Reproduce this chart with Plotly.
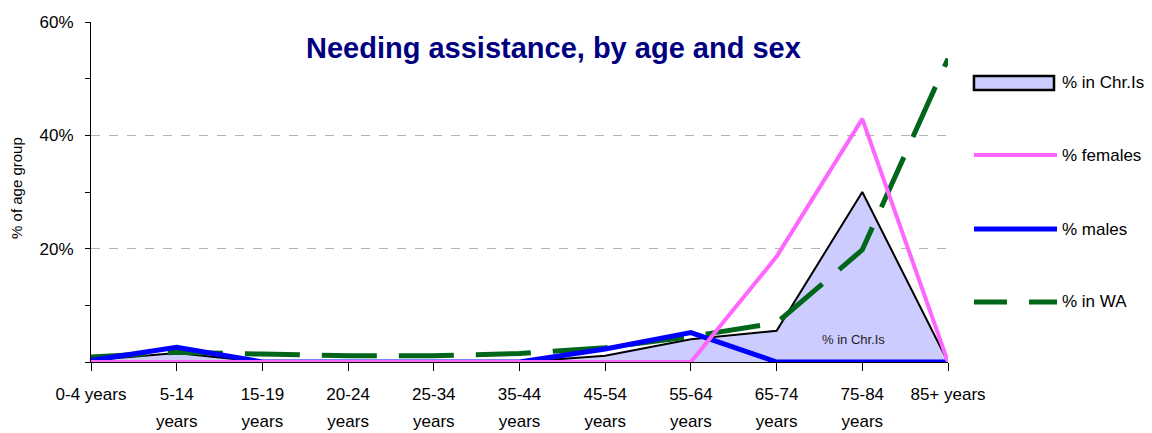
import plotly.graph_objects as go

# age groups (x categories), split into the two label lines
age_groups = ['0-4 years', '5-14', '15-19', '20-24', '25-34', '35-44',
              '45-54', '55-64', '65-74', '75-84', '85+ years']
second_line = ['', 'years', 'years', 'years', 'years', 'years',
               'years', 'years', 'years', 'years', '']

# % needing assistance
pct_chr_is = [0.3, 1.6, 0.0, 0.0, 0.0, 0.0, 1.1, 4.0, 5.5, 30.0, 0.0]
pct_females = [0.0, 0.0, 0.0, 0.0, 0.0, 0.0, 0.0, 0.0, 18.6, 42.9, 0.0]
pct_males = [0.3, 2.6, 0.0, 0.0, 0.0, 0.0, 2.3, 5.2, 0.0, 0.0, 0.0]
pct_wa = [0.9, 1.7, 1.4, 1.1, 1.1, 1.5, 2.5, 4.5, 6.9, 19.8, 53.5]

y_tick_vals = [20, 40, 60]
y_tick_text = ['20%', '40%', '60%']

FONT = 'Liberation Sans, Arial, sans-serif'
AREA_FILL = '#ccccff'
PINK = '#ff66ff'
BLUE = '#0000ff'
GREEN = '#006619'

fig = go.Figure()

fig.add_trace(go.Scatter(x=age_groups, y=pct_chr_is, mode='lines', fill='tozeroy',
                         fillcolor=AREA_FILL, line=dict(color='black', width=2),
                         cliponaxis=False, name='% in Chr.Is'))
fig.add_trace(go.Scatter(x=age_groups, y=pct_wa, mode='lines',
                         line=dict(color=GREEN, width=5, dash='55px,22px'),
                         cliponaxis=False, name='% in WA'))
fig.add_trace(go.Scatter(x=age_groups, y=pct_males, mode='lines',
                         line=dict(color=BLUE, width=5),
                         cliponaxis=False, name='% males'))
fig.add_trace(go.Scatter(x=age_groups, y=pct_females, mode='lines',
                         line=dict(color=PINK, width=4),
                         cliponaxis=False, name='% females'))
# empty trace so the overlay axis carrying the second label line gets drawn
fig.add_trace(go.Scatter(x=list(range(len(age_groups))), y=[None] * len(age_groups),
                         xaxis='x2', mode='lines', hoverinfo='skip'))

# label inside the shaded area
fig.add_annotation(x=8.9, y=3.9, xref='x', yref='y', text='% in Chr.Is', showarrow=False,
                   font=dict(size=13, color='#222222', family=FONT))

# title
fig.add_annotation(x=0.54, y=0.9235, xref='paper', yref='paper',
                   text='<b>Needing assistance, by age and sex</b>', showarrow=False,
                   xanchor='center', yanchor='middle',
                   font=dict(size=29, color='#000080', family=FONT))

# y axis title (sits a little above the plot's middle in the original)
fig.add_annotation(x=-0.0863, y=0.512, xref='paper', yref='paper', text='% of age group',
                   showarrow=False, textangle=-90, xanchor='center', yanchor='middle',
                   font=dict(size=15, color='black', family=FONT))

# hand-made legend on the right (paper coordinates)
lx0, lx1, tx = 1.0303, 1.1272, 1.1307
fig.add_shape(type='rect', xref='paper', yref='paper', x0=lx0, x1=1.1237, y0=0.80, y1=0.841,
              fillcolor=AREA_FILL, line=dict(color='black', width=2.5))
fig.add_shape(type='line', xref='paper', yref='paper', x0=lx0, x1=lx1, y0=0.6088, y1=0.6088,
              line=dict(color=PINK, width=4))
fig.add_shape(type='line', xref='paper', yref='paper', x0=lx0, x1=lx1, y0=0.391, y1=0.391,
              line=dict(color=BLUE, width=5))
fig.add_shape(type='line', xref='paper', yref='paper', x0=lx0, x1=lx1, y0=0.1765, y1=0.1765,
              line=dict(color=GREEN, width=5, dash='33px,22px'))
for label, ly in [('% in Chr.Is', 0.8206), ('% females', 0.6088), ('% males', 0.391), ('% in WA', 0.1765)]:
    fig.add_annotation(x=tx, y=ly, xref='paper', yref='paper', text=label, showarrow=False,
                       xanchor='left', yanchor='middle', font=dict(size=17, color='black', family=FONT))

# page body has an 8px margin, so the figure is 8px smaller than the window
fig.update_layout(
    width=1144, height=425,
    margin=dict(l=83, r=204, t=14, b=71),
    paper_bgcolor='white', plot_bgcolor='white',
    showlegend=False,
    font=dict(family=FONT, color='black'),
)
fig.update_layout(
    xaxis=dict(
        type='category', range=[0, 10], showgrid=False, zeroline=False, automargin=False,
        showline=True, linecolor='black', linewidth=1, layer='below traces',
        ticks='outside', ticklen=8, tickcolor='black', ticklabelstandoff=9,
        tickfont=dict(size=17, color='black', family=FONT),
    ),
    xaxis2=dict(
        overlaying='x', anchor='y', side='bottom', range=[0, 10], automargin=False,
        tickvals=list(range(len(second_line))), ticktext=second_line,
        showgrid=False, zeroline=False, showline=False,
        ticks='outside', ticklen=8, tickcolor='rgba(0,0,0,0)', ticklabelstandoff=36,
        tickfont=dict(size=17, color='black', family=FONT),
    ),
    yaxis=dict(
        range=[0, 60], tickvals=y_tick_vals, ticktext=y_tick_text, automargin=False,
        showgrid=True, gridcolor='#b3b3b3', griddash='dash', gridwidth=1, zeroline=False,
        showline=True, linecolor='black', linewidth=1,
        ticks='outside', ticklen=5, tickcolor='black', ticklabelstandoff=8,
        minor=dict(tickvals=[0, 10, 30, 50], ticks='outside', ticklen=5, tickcolor='black', showgrid=False),
        tickfont=dict(size=17, color='black', family=FONT),
    ),
)

fig.write_html('out.html')
